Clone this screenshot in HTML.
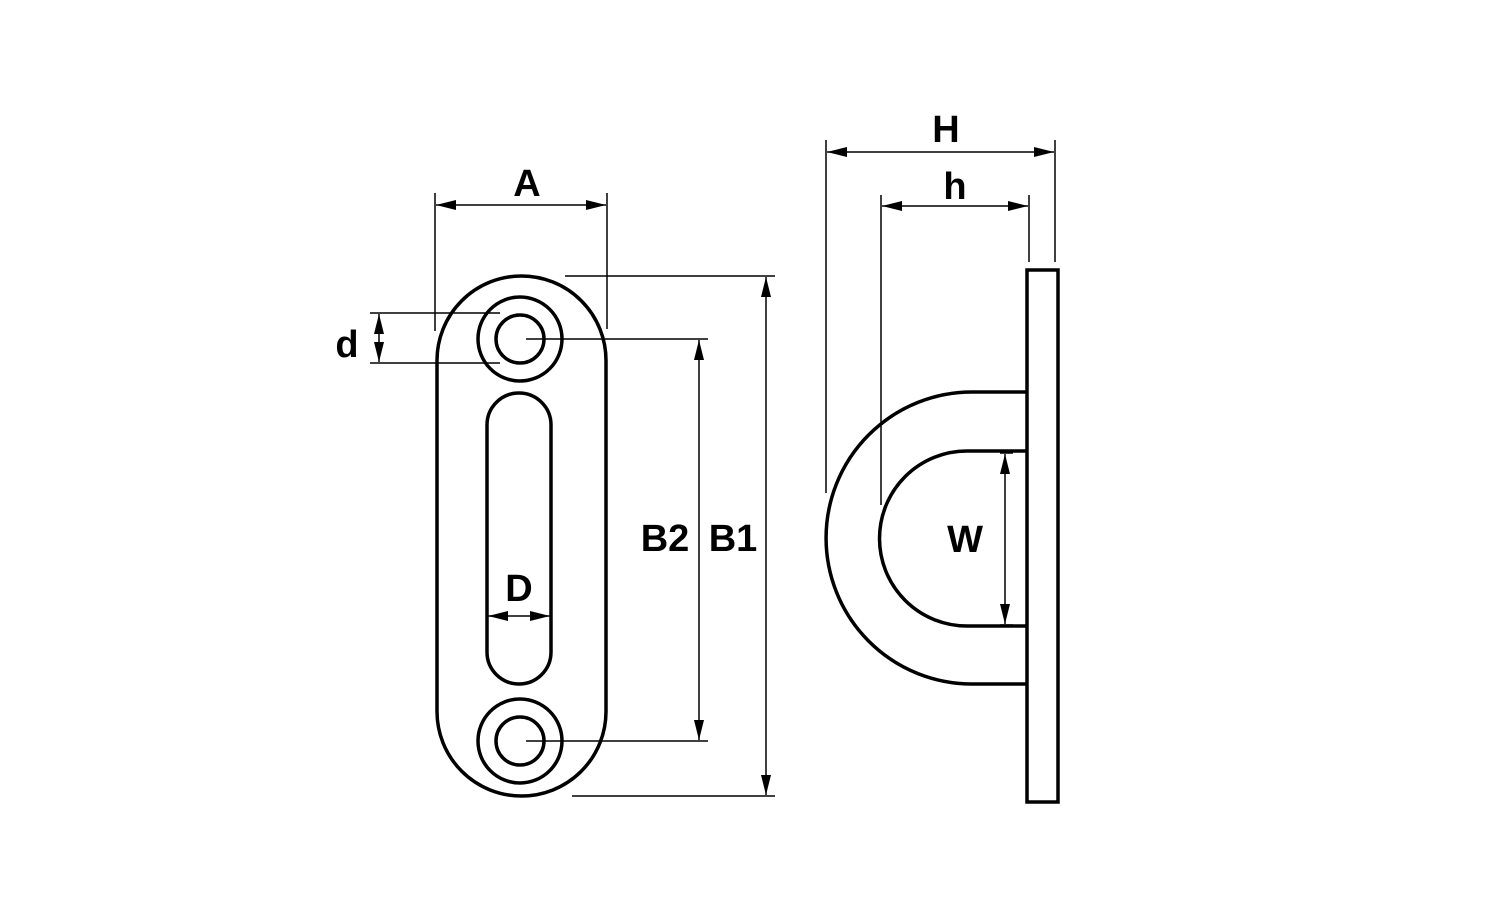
<!DOCTYPE html>
<html><head><meta charset="utf-8"><style>
html,body{margin:0;padding:0;background:#fff;width:1500px;height:900px;overflow:hidden}
text{font-family:"Liberation Sans",sans-serif;font-weight:bold;font-size:38px;fill:#000}
</style></head><body>
<svg width="1500" height="900" viewBox="0 0 1500 900" xmlns="http://www.w3.org/2000/svg">
<defs>
<marker id="ar" viewBox="0 0 20 10" refX="20" refY="5" markerWidth="20" markerHeight="10" markerUnits="userSpaceOnUse" orient="auto-start-reverse">
<path d="M0,0 L20,5 L0,10 z" fill="#000"/></marker>
</defs>
<g fill="none" stroke="#000" stroke-width="3.5">
<rect x="437" y="276" width="169" height="520" rx="84.5" ry="84.5"/>
<circle cx="520" cy="339" r="42"/><circle cx="520" cy="339" r="24"/>
<circle cx="520" cy="741" r="42"/><circle cx="520" cy="741" r="24"/>
<rect x="487" y="393" width="64" height="291" rx="32" ry="32"/>
<rect x="1027" y="270" width="31" height="532"/>
<path d="M1027,392 L972,392 A146,146 0 0 0 972,684 L1027,684"/>
<path d="M1027,451 L967,451 A87.5,87.5 0 0 0 967,626 L1027,626"/>
</g>
<g stroke="#000" stroke-width="1.5" fill="none">
<line x1="435" y1="193" x2="435" y2="331"/><line x1="607" y1="193" x2="607" y2="329"/>
<line x1="436" y1="205" x2="606" y2="205" marker-start="url(#ar)" marker-end="url(#ar)"/>
<line x1="370" y1="313" x2="500" y2="313"/><line x1="370" y1="363" x2="500" y2="363"/>
<line x1="379" y1="314" x2="379" y2="362" marker-start="url(#ar)" marker-end="url(#ar)"/>
<line x1="565" y1="276" x2="775" y2="276"/><line x1="572" y1="796" x2="775" y2="796"/>
<line x1="766" y1="277" x2="766" y2="795" marker-start="url(#ar)" marker-end="url(#ar)"/>
<line x1="526" y1="339" x2="708" y2="339"/><line x1="526" y1="741" x2="708" y2="741"/>
<line x1="699" y1="340" x2="699" y2="740" marker-start="url(#ar)" marker-end="url(#ar)"/>
<line x1="488" y1="616" x2="550" y2="616" marker-start="url(#ar)" marker-end="url(#ar)"/>
<line x1="826" y1="140" x2="826" y2="493"/><line x1="1055" y1="140" x2="1055" y2="262"/>
<line x1="827" y1="152" x2="1054" y2="152" marker-start="url(#ar)" marker-end="url(#ar)"/>
<line x1="881" y1="195" x2="881" y2="505"/><line x1="1029" y1="195" x2="1029" y2="262"/>
<line x1="882" y1="206" x2="1028" y2="206" marker-start="url(#ar)" marker-end="url(#ar)"/>
<line x1="1000" y1="453" x2="1013" y2="453"/><line x1="1000" y1="625" x2="1013" y2="625"/>
<line x1="1005" y1="454" x2="1005" y2="624" marker-start="url(#ar)" marker-end="url(#ar)"/>
</g>
<text x="527" y="196" text-anchor="middle">A</text>
<text x="347" y="357" text-anchor="middle">d</text>
<text x="519" y="601" text-anchor="middle">D</text>
<text x="665" y="551" text-anchor="middle">B2</text>
<text x="733" y="551" text-anchor="middle">B1</text>
<text x="946" y="142" text-anchor="middle">H</text>
<text x="955" y="199" text-anchor="middle">h</text>
<text x="965" y="552" text-anchor="middle">W</text>
</svg>
</body></html>
